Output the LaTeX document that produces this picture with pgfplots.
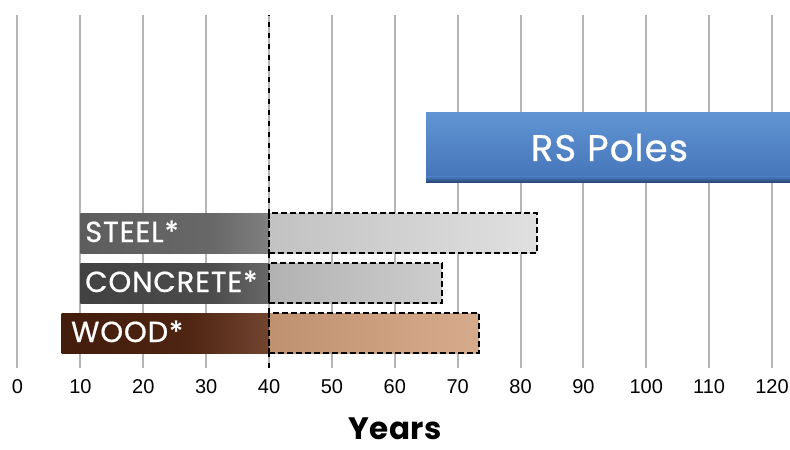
\documentclass[border=0pt]{standalone}
\usepackage{fontspec}
\setmainfont{Liberation Sans}
\newfontfamily\gotham{Poppins}[FakeBold=0.6, LetterSpace=3]
\newfontfamily\gothamB{Poppins}[LetterSpace=2]
\usepackage{pgfplots}
\pgfplotsset{compat=1.18}
\definecolor{gridc}{HTML}{B5B5B5}
\definecolor{steelA}{HTML}{555555}
\definecolor{steelM}{HTML}{686868}
\definecolor{steelB}{HTML}{A8A8A8}
\definecolor{steelC}{HTML}{C2C2C2}
\definecolor{steelD}{HTML}{E0E0E0}
\definecolor{concA}{HTML}{3A3A3A}
\definecolor{concM}{HTML}{4C4C4C}
\definecolor{concB}{HTML}{969696}
\definecolor{concC}{HTML}{B2B2B2}
\definecolor{concD}{HTML}{CDCDCD}
\definecolor{woodA}{HTML}{3A1606}
\definecolor{woodM}{HTML}{4E2412}
\definecolor{woodB}{HTML}{9E6E55}
\definecolor{woodC}{HTML}{BF916F}
\definecolor{woodD}{HTML}{D6AB8C}
\definecolor{rsTop}{HTML}{6094D2}
\definecolor{rsBot}{HTML}{4676BA}
\definecolor{rsEdge}{HTML}{24406C}
\pgfdeclarehorizontalshading{steelsh}{100bp}{color(0bp)=(steelA); color(60bp)=(steelM); color(100bp)=(steelB)}
\pgfdeclarehorizontalshading{concsh}{100bp}{color(0bp)=(concA); color(60bp)=(concM); color(100bp)=(concB)}
\pgfdeclarehorizontalshading{woodsh}{100bp}{color(0bp)=(woodA); color(55bp)=(woodM); color(100bp)=(woodB)}
\begin{document}
\begin{tikzpicture}
\begin{axis}[name=ax, scale only axis, x=6.2875pt, y=1pt,
  xmin=-2.783, xmax=122.86, ymin=0, ymax=353,
  axis line style={draw=none}, ytick=\empty,
  xtick={0,10,...,120}, xmajorgrids,
  major grid style={gridc, line width=2pt},
  tick style={draw=none},
  /pgf/number format/assume math mode=true,
  xticklabel style={anchor=base, yshift=-25pt, font=\fontsize{20}{24}\selectfont},
  xlabel={Years},
  xlabel style={at={(rel axis cs:0.5,0)}, anchor=base, inner sep=0pt, yshift=-71pt, font=\gothamB\bfseries\fontsize{31}{34}\selectfont},
  clip=true]
% RS Poles
\addplot[draw=none, top color=rsTop, bottom color=rsBot] coordinates {(65,190)(126,190)(126,255)(65,255)} -- cycle;
\addplot[draw=none, top color=rsBot, bottom color=rsEdge] coordinates {(65,185)(126,185)(126,191)(65,191)} -- cycle;
% Steel
\addplot[draw=none, shading=steelsh] coordinates {(10,115)(40,115)(40,155)(10,155)} -- cycle;
\addplot[draw=black, line width=2.4pt, dash pattern=on 6pt off 3pt, left color=steelC, right color=steelD] coordinates {(40,115)(82.6,115)(82.6,155)(40,155)} -- cycle;
% Concrete
\addplot[draw=none, shading=concsh] coordinates {(10,65)(40,65)(40,105)(10,105)} -- cycle;
\addplot[draw=black, line width=2.4pt, dash pattern=on 6pt off 3pt, left color=concC, right color=concD] coordinates {(40,65)(67.5,65)(67.5,105)(40,105)} -- cycle;
% Wood
\addplot[draw=none, shading=woodsh] coordinates {(7,15)(40,15)(40,55)(7,55)} -- cycle;
\addplot[draw=black, line width=2.4pt, dash pattern=on 6pt off 3pt, left color=woodC, right color=woodD] coordinates {(40,15)(73.4,15)(73.4,55)(40,55)} -- cycle;
% 40-year line
\addplot[black, line width=2.6pt, dash pattern=on 5pt off 6pt] coordinates {(40,0)(40,353)};
% labels
\node[anchor=base, inner sep=0pt, text=white, font=\gotham\fontsize{37}{40}\selectfont] at (axis cs:94.15,207) {RS Poles};
\node[anchor=base west, inner sep=0pt, text=white, font=\gotham\fontsize{29}{30}\selectfont] at (axis cs:10.74,126) {STEEL*};
\node[anchor=base west, inner sep=0pt, text=white, font=\gotham\fontsize{29}{30}\selectfont] at (axis cs:10.74,76) {CONCRETE*};
\node[anchor=base west, inner sep=0pt, text=white, font=\gotham\fontsize{29}{30}\selectfont] at (axis cs:8.5,26) {WOOD*};
\end{axis}
\pgfresetboundingbox
\path ([yshift=-81pt]ax.south west) rectangle ([yshift=15pt]ax.north east);
\end{tikzpicture}
\end{document}
